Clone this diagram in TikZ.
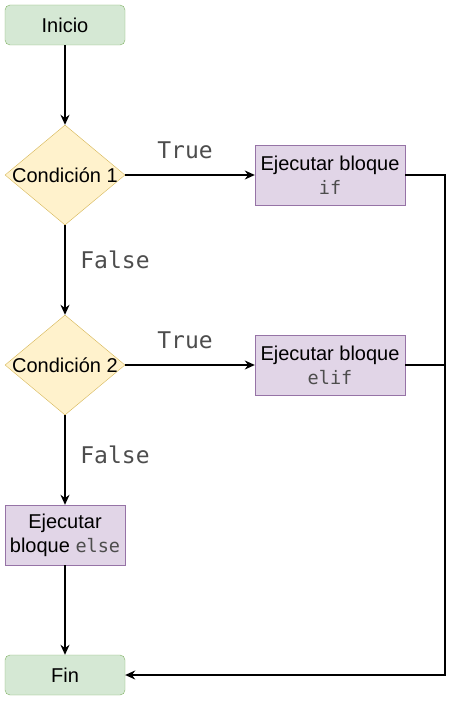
\documentclass[tikz,border=0pt]{standalone}
\usepackage{fontspec}
\setmainfont{Liberation Sans}
\setmonofont{DejaVu Sans Mono}
\usetikzlibrary{shapes.geometric,arrows.meta}
\definecolor{gfill}{HTML}{D5E8D4}\definecolor{gdraw}{HTML}{82B366}
\definecolor{yfill}{HTML}{FFF2CC}\definecolor{ydraw}{HTML}{D6B656}
\definecolor{pfill}{HTML}{E1D5E7}\definecolor{pdraw}{HTML}{9673A6}
\definecolor{codegray}{HTML}{4D4D4D}
\newcommand{\cod}[1]{{\fontsize{18.5}{24}\ttfamily\color{codegray}#1}}
\begin{document}
\begin{tikzpicture}[x=1pt,y=-1pt,
  term/.style={draw=gdraw,fill=gfill,rounded corners=5pt,minimum width=120pt,minimum height=40pt,inner sep=0pt,font=\fontsize{20}{24}\selectfont},
  cond/.style={draw=ydraw,fill=yfill,diamond,minimum width=120pt,minimum height=100pt,inner sep=0pt},
  ctext/.style={font=\fontsize{20}{24}\selectfont,inner sep=0pt},
  proc/.style={draw=pdraw,fill=pfill,minimum width=150pt,minimum height=60pt,inner sep=0pt,align=center,font=\fontsize{20}{24}\selectfont},
  lbl/.style={font=\fontsize{23}{27}\selectfont\ttfamily,text=codegray,inner sep=0pt},
  arr/.style={draw,line width=1.4pt,-{Stealth[length=10pt,width=9pt]}},
  ln/.style={draw,line width=1.4pt}]
\useasboundingbox (0,0) rectangle (460,701);
\node[term] (inicio) at (65,25) {Inicio};
\node[cond] (c1) at (65,175) {};
\node[ctext] (c1t) at (65,175) {Condición 1};
\node[proc] (pif) at (330,175) {Ejecutar bloque\\\cod{if}};
\node[cond] (c2) at (65,365) {};
\node[ctext] (c2t) at (65,365) {Condición 2};
\node[proc] (pelif) at (330,365) {Ejecutar bloque\\\cod{elif}};
\node[proc,minimum width=120pt] (pelse) at (65,535) {Ejecutar\\bloque \cod{else}};
\node[term] (fin) at (65,675) {Fin};
\node[lbl] (t1) at (185,150) {True};
\node[lbl] (f1) at (115,260) {False};
\node[lbl] (t2) at (185,340) {True};
\node[lbl] (f2) at (115,455) {False};
\coordinate (r1) at (445,175);
\coordinate (r2) at (445,365);
\coordinate (r3) at (445,675);
\draw[arr] (inicio.south) -- (c1.north);
\draw[arr] (c1.east) -- (pif.west);
\draw[arr] (c1.south) -- (c2.north);
\draw[arr] (c2.east) -- (pelif.west);
\draw[arr] (c2.south) -- (pelse.north);
\draw[arr] (pelse.south) -- (fin.north);
\draw[ln] (pif.east) -- (r1) -- (r2);
\draw[ln] (pelif.east) -- (r2);
\draw[arr] (r2) -- (r3) -- (fin.east);
\end{tikzpicture}
\end{document}
